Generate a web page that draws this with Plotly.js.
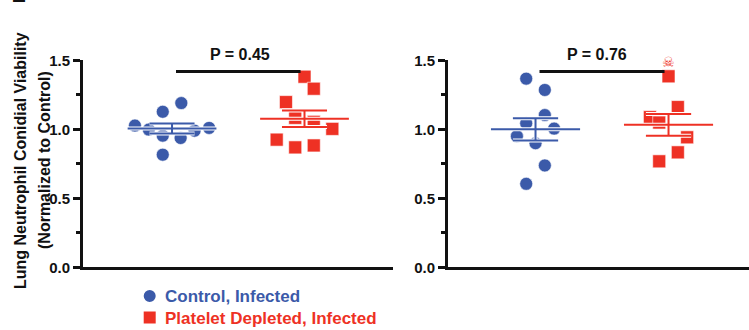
<!DOCTYPE html>
<html>
<head>
<meta charset="utf-8">
<script src="https://cdn.plot.ly/plotly-3.0.1.min.js"></script>
<style>
  html, body { margin: 0; padding: 0; background: #fff; }
  #chart { width: 749px; height: 330px; }
</style>
</head>
<body>
<div id="chart"></div>
<script>
// Group names (legend)
const groupNames = ['Control, Infected', 'Platelet Depleted, Infected'];
const yTickVals = [0, 0.5, 1.0, 1.5];
const yTickText = ['0.0', '0.5', '1.0', '1.5'];
const pLabels = ['P = 0.45', 'P = 0.76'];

// Panel A: normalized viability per animal
const ctrlA = [1.027, 1.127, 1.19, 0.998, 0.954, 0.937, 0.99, 1.01, 0.816];
const pltA  = [1.381, 1.294, 1.197, 1.083, 1.054, 1.003, 0.925, 0.869, 0.883];
// Panel B: normalized viability per animal
const ctrlB = [1.367, 1.285, 1.103, 1.044, 1.005, 0.95, 0.899, 0.738, 0.605];
const pltB  = [1.384, 1.161, 1.088, 1.049, 0.942, 0.833, 0.768];

// Horizontal scatter offsets so overlapping dots stay visible
const ctrlAJitter = [-0.28, -0.07, 0.07, -0.175, -0.07, 0.065, 0.17, 0.28, -0.07];
const pltAJitter  = [0.0, 0.07, -0.14, -0.07, 0.07, 0.21, -0.21, -0.07, 0.07];
const ctrlBJitter = [-0.07, 0.07, 0.07, -0.07, 0.14, -0.14, 0, 0.07, -0.07];
const pltBJitter  = [0, 0.07, -0.14, -0.07, 0.14, 0.07, -0.07];

const BLUE = '#3b5aa9';
const RED = '#ee3124';
const FONT = 'Liberation Sans, Arial, Helvetica, sans-serif';
const W = 749, H = 330;
const px = v => v / W;             // pixel -> paper x
const py = v => (H - v) / H;       // pixel -> paper y

function mean(a) { return a.reduce((s, v) => s + v, 0) / a.length; }
function sem(a) {
  const m = mean(a);
  const v = a.reduce((s, x) => s + (x - m) * (x - m), 0) / (a.length - 1);
  return Math.sqrt(v / a.length);
}

function dots(vals, jit, center, color, symbol, xa, ya) {
  return {
    type: 'scatter', mode: 'markers', xaxis: xa, yaxis: ya,
    x: vals.map((_, i) => center + jit[i]), y: vals,
    marker: { color: color, symbol: symbol, size: 13,
              line: { color: '#ffffff', width: 0.6 } },
    cliponaxis: false, showlegend: false, hoverinfo: 'y'
  };
}

// Mean line with SEM whiskers
function meanSem(vals, center, color, xa, ya) {
  const m = mean(vals), s = sem(vals);
  const hw = 0.335, cw = 0.17;
  const x = [center - hw, center + hw, null, center, center, null,
             center - cw, center + cw, null, center - cw, center + cw];
  const y = [m, m, null, m - s, m + s, null, m + s, m + s, null, m - s, m - s];
  return [
    { type: 'scatter', mode: 'lines', xaxis: xa, yaxis: ya, x: x, y: y,
      line: { color: '#ffffff', width: 4 }, showlegend: false, hoverinfo: 'skip', cliponaxis: false },
    { type: 'scatter', mode: 'lines', xaxis: xa, yaxis: ya, x: x, y: y,
      line: { color: color, width: 2 }, showlegend: false, hoverinfo: 'skip', cliponaxis: false }
  ];
}

const traces = [
  dots(ctrlA, ctrlAJitter, 0, BLUE, 'circle', 'x', 'y'),
  dots(pltA, pltAJitter, 1, RED, 'square', 'x', 'y'),
  ...meanSem(ctrlA, 0, BLUE, 'x', 'y'),
  ...meanSem(pltA, 1, RED, 'x', 'y'),
  dots(ctrlB, ctrlBJitter, 0, BLUE, 'circle', 'x2', 'y2'),
  dots(pltB, pltBJitter, 1, RED, 'square', 'x2', 'y2'),
  ...meanSem(ctrlB, 0, BLUE, 'x2', 'y2'),
  ...meanSem(pltB, 1, RED, 'x2', 'y2')
];

const yDomain = [py(267.3), py(60.3)];
function yAxis(anchor) {
  return {
    domain: yDomain, range: [0, 1.5], anchor: anchor,
    showline: true, linecolor: '#111', linewidth: 3,
    showgrid: false, zeroline: false,
    ticks: 'outside', ticklen: 7, tickwidth: 3, tickcolor: '#111',
    tickvals: yTickVals, ticktext: yTickText,
    tickfont: { family: FONT, size: 15, color: '#111', weight: 'bold' },
    minor: { ticks: 'outside', ticklen: 4, tickwidth: 3, tickcolor: '#111',
             tickvals: [0.25, 0.75, 1.25], showgrid: false }
  };
}
function xAxis(domain, range, anchor) {
  return {
    domain: domain, range: range, anchor: anchor,
    showline: true, linecolor: '#111', linewidth: 3,
    showgrid: false, zeroline: false, showticklabels: false, ticks: ''
  };
}

const bold = (size, color) => ({ family: FONT, size: size, color: color, weight: 'bold' });

const annotations = [
  { xref: 'paper', yref: 'paper', x: px(240), y: py(54), text: pLabels[0], showarrow: false,
    font: bold(16, '#111'), xanchor: 'center', yanchor: 'middle' },
  { xref: 'paper', yref: 'paper', x: px(596.5), y: py(54), text: pLabels[1], showarrow: false,
    font: bold(16, '#111'), xanchor: 'center', yanchor: 'middle' },
  // death marker above the top square in panel B
  { xref: 'x2', yref: 'y2', x: 1, y: 1.49, text: '\u2620', showarrow: false,
    font: { family: 'DejaVu Sans', size: 14, color: RED }, xanchor: 'center', yanchor: 'middle' },
  // y-axis title, two lines
  { xref: 'paper', yref: 'paper', x: px(20), y: py(161), text: 'Lung Neutrophil Conidial Viability',
    textangle: -90, showarrow: false, font: bold(16, '#111'), xanchor: 'center', yanchor: 'middle' },
  { xref: 'paper', yref: 'paper', x: px(44), y: py(160), text: '(Normalized to Control)',
    textangle: -90, showarrow: false, font: bold(16, '#111'), xanchor: 'center', yanchor: 'middle' },
  // tail of the title from the panel above
  { xref: 'paper', yref: 'paper', x: px(20), y: py(-2), text: 'L',
    textangle: -90, showarrow: false, font: bold(16, '#111'), xanchor: 'center', yanchor: 'middle' },
  // legend labels
  { xref: 'paper', yref: 'paper', x: px(163), y: py(296), text: groupNames[0], showarrow: false,
    font: bold(17, BLUE), xanchor: 'left', yanchor: 'middle' },
  { xref: 'paper', yref: 'paper', x: px(163), y: py(318), text: groupNames[1], showarrow: false,
    font: bold(17, RED), xanchor: 'left', yanchor: 'middle' }
];

const shapes = [
  { type: 'line', xref: 'x', yref: 'y', x0: 0.03, x1: 0.97, y0: 1.418, y1: 1.418,
    line: { color: '#111', width: 3 } },
  { type: 'line', xref: 'x2', yref: 'y2', x0: 0.03, x1: 0.97, y0: 1.418, y1: 1.418,
    line: { color: '#111', width: 3 } },
  // legend symbols
  { type: 'circle', xref: 'paper', yref: 'paper', x0: px(143.7), x1: px(155.7), y0: py(302), y1: py(290),
    fillcolor: BLUE, line: { width: 0 } },
  { type: 'rect', xref: 'paper', yref: 'paper', x0: px(143.7), x1: px(155.7), y0: py(323.5), y1: py(311.5),
    fillcolor: RED, line: { width: 0 } }
];

const layout = {
  width: W, height: H,
  margin: { l: 0, r: 0, t: 0, b: 0, pad: 0 },
  paper_bgcolor: '#ffffff', plot_bgcolor: '#ffffff',
  showlegend: false,
  xaxis: xAxis([px(83), px(393)], [-0.672, 1.668], 'y'),
  yaxis: yAxis('x'),
  xaxis2: xAxis([px(448), 1], [-0.658, 1.605], 'y2'),
  yaxis2: yAxis('x2'),
  annotations: annotations,
  shapes: shapes
};

Plotly.newPlot('chart', traces, layout, { displayModeBar: false, staticPlot: true });
</script>
</body>
</html>
